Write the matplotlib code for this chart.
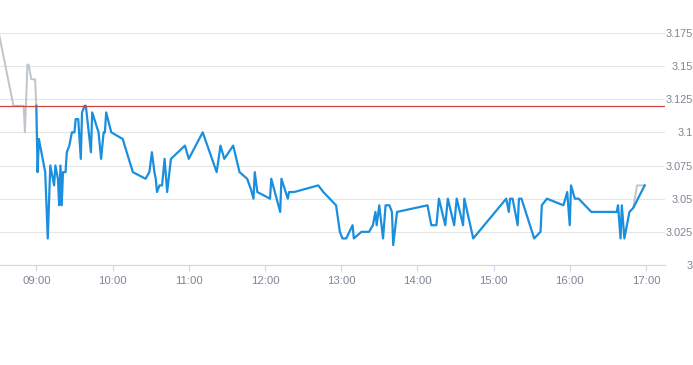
import matplotlib
matplotlib.use("Agg")
import matplotlib.pyplot as plt
import matplotlib.dates as mdates
import pandas as pd

DAY = "2024-01-02 "

blue_times = [
    "09:00", "09:01", "09:02", "09:07", "09:09", "09:11", "09:14", "09:15", "09:17", "09:18",
    "09:19", "09:20", "09:21", "09:23", "09:24", "09:26", "09:28", "09:30", "09:31", "09:33",
    "09:35", "09:36", "09:38", "09:39", "09:43", "09:44", "09:49", "09:51", "09:53", "09:54",
    "09:55", "09:59", "10:08", "10:16", "10:26", "10:29", "10:31", "10:33", "10:34", "10:35",
    "10:37", "10:39", "10:41", "10:43", "10:46", "10:57", "11:00", "11:11", "11:22", "11:25",
    "11:28", "11:35", "11:40", "11:46", "11:49", "11:51", "11:52", "11:54", "12:04", "12:05",
    "12:12", "12:13", "12:18", "12:19", "12:23", "12:42", "12:46", "12:56", "12:59", "13:01",
    "13:04", "13:09", "13:10", "13:16", "13:22", "13:25", "13:27", "13:28", "13:30", "13:33",
    "13:35", "13:38", "13:40", "13:41", "13:44", "14:08", "14:11", "14:15", "14:17", "14:22",
    "14:24", "14:29", "14:31", "14:36", "14:37", "14:44", "15:10", "15:12", "15:13", "15:15",
    "15:19", "15:20", "15:22", "15:32", "15:37", "15:38", "15:42", "15:55", "15:58", "16:00",
    "16:01", "16:04", "16:07", "16:17", "16:37", "16:38", "16:40", "16:41", "16:43", "16:47",
    "16:50", "16:59",
]
blue_values = [
    3.12, 3.07, 3.095, 3.07, 3.02, 3.075, 3.06, 3.075, 3.065, 3.045,
    3.075, 3.045, 3.07, 3.07, 3.085, 3.09, 3.10, 3.10, 3.11, 3.11,
    3.08, 3.115, 3.12, 3.12, 3.085, 3.115, 3.10, 3.08, 3.10, 3.10,
    3.115, 3.10, 3.095, 3.07, 3.065, 3.07, 3.085, 3.07, 3.065, 3.055,
    3.06, 3.06, 3.08, 3.055, 3.08, 3.09, 3.08, 3.10, 3.07, 3.09,
    3.08, 3.09, 3.07, 3.065, 3.057, 3.05, 3.07, 3.055, 3.05, 3.065,
    3.04, 3.065, 3.05, 3.055, 3.055, 3.06, 3.055, 3.045, 3.025, 3.02,
    3.02, 3.03, 3.02, 3.025, 3.025, 3.03, 3.04, 3.03, 3.045, 3.02,
    3.045, 3.045, 3.04, 3.015, 3.04, 3.045, 3.03, 3.03, 3.05, 3.03,
    3.05, 3.03, 3.05, 3.03, 3.05, 3.02, 3.05, 3.04, 3.05, 3.05,
    3.03, 3.05, 3.05, 3.02, 3.025, 3.045, 3.05, 3.045, 3.055, 3.03,
    3.06, 3.05, 3.05, 3.04, 3.04, 3.045, 3.02, 3.045, 3.02, 3.04,
    3.043, 3.06,
]

# grey parts outside regular session
pre_times = ["08:30", "08:42", "08:50", "08:51", "08:53", "08:54", "08:56", "08:59", "09:00"]
pre_values = [3.177, 3.12, 3.12, 3.10, 3.151, 3.151, 3.14, 3.14, 3.12]
post_times = ["16:50", "16:53", "16:59"]
post_values = [3.043, 3.06, 3.06]

ref_price = 3.12
y_ticks = [3, 3.025, 3.05, 3.075, 3.1, 3.125, 3.15, 3.175]
y_labels = ["3", "3.025", "3.05", "3.075", "3.1", "3.125", "3.15", "3.175"]
x_range = ["08:31:24", "17:15:00"]


def to_dt(ts):
    return pd.to_datetime([DAY + t for t in ts])


fig = plt.figure(figsize=(6.93, 3.65), dpi=100)
ax = fig.add_axes([0, 0.274, 665 / 693, 0.636])

ax.plot(to_dt(pre_times), pre_values, color="#bfc5cc", lw=1.4, zorder=2)
ax.plot(to_dt(post_times), post_values, color="#bfc5cc", lw=1.4, zorder=2)
ax.plot(to_dt(blue_times), blue_values, color="#1a8fdd", lw=1.6, zorder=3)
ax.axhline(ref_price, color="#d2473d", lw=0.9, zorder=4)

ax.set_xlim(to_dt(x_range))
ax.set_ylim(3, 3.175)

ax.xaxis.set_major_locator(mdates.HourLocator())
ax.xaxis.set_major_formatter(mdates.DateFormatter("%H:%M"))
ax.set_yticks(y_ticks)
ax.set_yticklabels(y_labels)
ax.yaxis.tick_right()
ax.grid(axis="y", color="#e6e6e6", lw=0.8)
ax.set_axisbelow(True)

for side in ["top", "left", "right"]:
    ax.spines[side].set_visible(False)
ax.spines["bottom"].set_color("#ccd6eb")
ax.spines["bottom"].set_linewidth(0.8)

family = ["Liberation Sans", "DejaVu Sans"]
ax.tick_params(axis="x", colors="#ccd6eb", length=4, width=0.8, pad=4, labelcolor="#7d8591")
ax.tick_params(axis="y", length=0, pad=20, labelcolor="#7d8591")
for lab in ax.get_xticklabels():
    lab.set_fontfamily(family)
    lab.set_fontsize(8.2)
for lab in ax.get_yticklabels():
    lab.set_fontfamily(family)
    lab.set_fontsize(7.8)
    lab.set_horizontalalignment("right")

fig.savefig("out.png", dpi=100)
